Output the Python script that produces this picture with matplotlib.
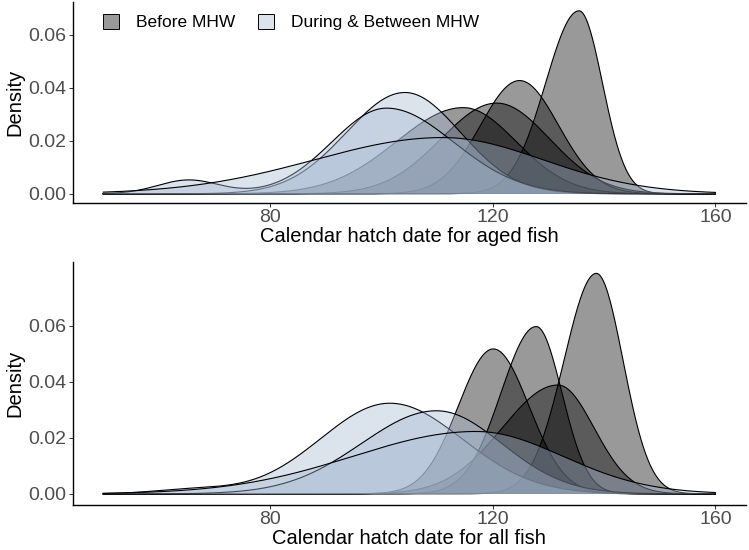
import numpy as np
import matplotlib.pyplot as plt
from matplotlib.patches import Patch

plt.rcParams['font.family'] = ['Liberation Sans', 'DejaVu Sans']

# hatch-date density curves:
# peak day, peak density, spread left / right of the peak,
# plus an optional small secondary mode (density 0 = none)
aged_period = ["Before", "Before", "Before", "Before", "During", "During", "During"]
aged_peak_day = [135.5, 124.8, 120.7, 114.7, 104.2, 100.9, 111.0]
aged_peak_density = [0.069, 0.0427, 0.0342, 0.0325, 0.0382, 0.0323, 0.0212]
aged_sd_left = [6.0, 7.0, 10.0, 12.0, 10.5, 9.8, 23.0]
aged_sd_right = [4.2, 7.0, 9.5, 9.5, 10.0, 12.0, 18.0]
aged_minor_day = [0, 0, 0, 0, 0, 65.3, 0]
aged_minor_density = [0, 0, 0, 0, 0, 0.0052, 0]
aged_minor_sd = [0, 0, 0, 0, 0, 5.5, 0]

all_period = ["Before", "Before", "Before", "Before", "During", "During", "During"]
all_peak_day = [138.6, 127.8, 120.1, 131.7, 101.5, 109.9, 117.0]
all_peak_density = [0.0788, 0.0598, 0.0518, 0.0389, 0.0324, 0.0297, 0.0223]
all_sd_left = [5.8, 6.3, 6.3, 10.0, 12.5, 13.5, 22.0]
all_sd_right = [4.8, 4.6, 6.4, 6.5, 13.0, 11.7, 15.5]
all_minor_day = [0, 0, 0, 0, 66.0, 0, 0]
all_minor_density = [0, 0, 0, 0, 0.0015, 0, 0]
all_minor_sd = [0, 0, 0, 0, 7.0, 0, 0]

day_range = (50, 160)
x_ticks = [80, 120, 160]
legend_labels = ["Before MHW", "During & Between MHW"]

fills = {"Before": (0.0, 0.0, 0.0, 0.4),
         "During": (167/255, 185/255, 210/255, 0.4)}


def density_curve(days, peak_day, peak, sd_l, sd_r, m_day, m_dens, m_sd):
    sd = np.where(days < peak_day, sd_l, sd_r)
    y = peak * np.exp(-0.5 * ((days - peak_day) / sd) ** 2)
    if m_dens > 0:
        y = y + m_dens * np.exp(-0.5 * ((days - m_day) / m_sd) ** 2)
    return y


def draw_panel(ax, period, peak_day, peak, sd_l, sd_r, m_day, m_dens, m_sd, xlabel):
    days = np.linspace(day_range[0], day_range[1], 800)
    z = 2
    # Before curves first, During drawn over them
    for grp in ["Before", "During"]:
        for i in range(len(period)):
            if period[i] != grp:
                continue
            y = density_curve(days, peak_day[i], peak[i], sd_l[i], sd_r[i],
                              m_day[i], m_dens[i], m_sd[i])
            ax.fill_between(days, 0, y, facecolor=fills[grp], edgecolor='none', zorder=z)
            ax.plot(days, y, color='black', lw=0.8, zorder=z + 1)
            z += 2
    ymax = max(peak)
    span = day_range[1] - day_range[0]
    ax.set_xlim(day_range[0] - 0.05 * span, day_range[1] + 0.05 * span)
    ax.set_ylim(-0.05 * ymax, 1.05 * ymax)
    ax.set_xticks(x_ticks)
    ax.set_yticks(np.arange(0, ymax + 0.001, 0.02))
    ax.yaxis.set_major_formatter(plt.FormatStrFormatter('%.2f'))
    for s in ['top', 'right']:
        ax.spines[s].set_visible(False)
    for s in ['left', 'bottom']:
        ax.spines[s].set_linewidth(1.0)
    ax.tick_params(labelsize=14, labelcolor='#4d4d4d', color='#333333',
                   length=3, width=0.7, pad=1.5)
    ax.set_xlabel(xlabel, fontsize=14.5, labelpad=0.5)
    ax.set_ylabel("Density", fontsize=14.5, labelpad=3)


fig = plt.figure(figsize=(7.49, 5.5), dpi=100)
ax1 = fig.add_axes([0.097, 0.631, 0.899, 0.366])
ax2 = fig.add_axes([0.097, 0.082, 0.899, 0.441])

draw_panel(ax1, aged_period, aged_peak_day, aged_peak_density, aged_sd_left,
           aged_sd_right, aged_minor_day, aged_minor_density, aged_minor_sd,
           "Calendar hatch date for aged fish")
draw_panel(ax2, all_period, all_peak_day, all_peak_density, all_sd_left,
           all_sd_right, all_minor_day, all_minor_density, all_minor_sd,
           "Calendar hatch date for all fish")

handles = [Patch(facecolor=fills["Before"], edgecolor='black', lw=0.7),
           Patch(facecolor=fills["During"], edgecolor='black', lw=0.7)]
ax1.legend(handles, legend_labels, ncol=2, frameon=False, fontsize=12.5,
           loc='upper left', bbox_to_anchor=(103 / 749, 1 - 14 / 550),
           bbox_transform=fig.transFigure, borderaxespad=0, borderpad=0,
           handlelength=0.92, handleheight=0.92, handletextpad=1.0,
           columnspacing=1.3)

fig.savefig("out.png", dpi=100)
